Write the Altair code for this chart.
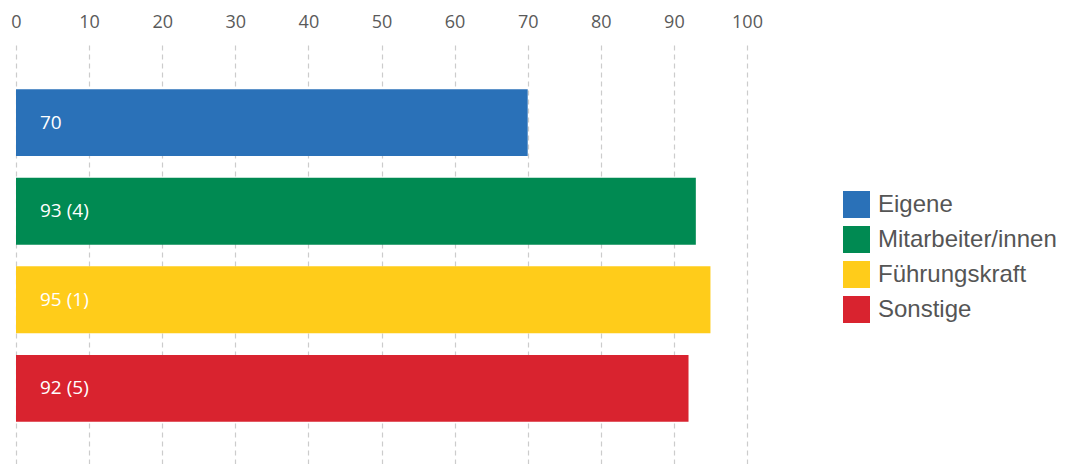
import altair as alt
import pandas as pd

categories = ["Eigene", "Mitarbeiter/innen", "Führungskraft", "Sonstige"]
values = [70, 93, 95, 92]
labels = ["70", "93 (4)", "95 (1)", "92 (5)"]
colors = ["#2A71B8", "#008A52", "#FFCC1A", "#D9232F"]

df = pd.DataFrame({"cat": categories, "val": values, "lab": labels})

y_enc = alt.Y("cat:N", sort=categories, axis=None,
              scale=alt.Scale(paddingInner=0.245, paddingOuter=0.5))

bars = alt.Chart(df).mark_bar().encode(
    x=alt.X("val:Q",
            scale=alt.Scale(domain=[0, 100], nice=False),
            axis=alt.Axis(orient="top", values=list(range(0, 101, 10)),
                          domain=False, ticks=False, labelPadding=14,
                          labelFlush=False,
                          labelFont="Open Sans", labelFontSize=18,
                          labelColor="#5A5A5A", grid=True,
                          gridDash=[5, 4], gridColor="#CCCCCC",
                          gridWidth=1.2, title=None)),
    y=y_enc,
    color=alt.Color("cat:N", sort=categories,
                    scale=alt.Scale(domain=categories, range=colors),
                    legend=alt.Legend(title=None, orient="none",
                                      legendX=827, legendY=146,
                                      symbolType="square", symbolSize=729,
                                      symbolStrokeWidth=0,
                                      symbolOpacity=1,
                                      labelFont="Liberation Sans",
                                      labelFontSize=24,
                                      labelLimit=400,
                                      labelColor="#555555",
                                      labelOffset=8,
                                      rowPadding=8)),
)

text = alt.Chart(df).mark_text(align="left", baseline="middle", dx=24,
                               color="white", font="Open Sans",
                               fontSize=19).encode(
    x=alt.datum(0),
    y=y_enc,
    text="lab:N",
)

chart = (bars + text).properties(
    width=731, height=421,
    autosize=alt.AutoSizeParams(type="none"),
    padding={"left": 8, "top": 37, "right": 311, "bottom": 0},
).configure_view(stroke=None)

chart.save("out.html", embed_options={"renderer": "svg", "actions": False})
